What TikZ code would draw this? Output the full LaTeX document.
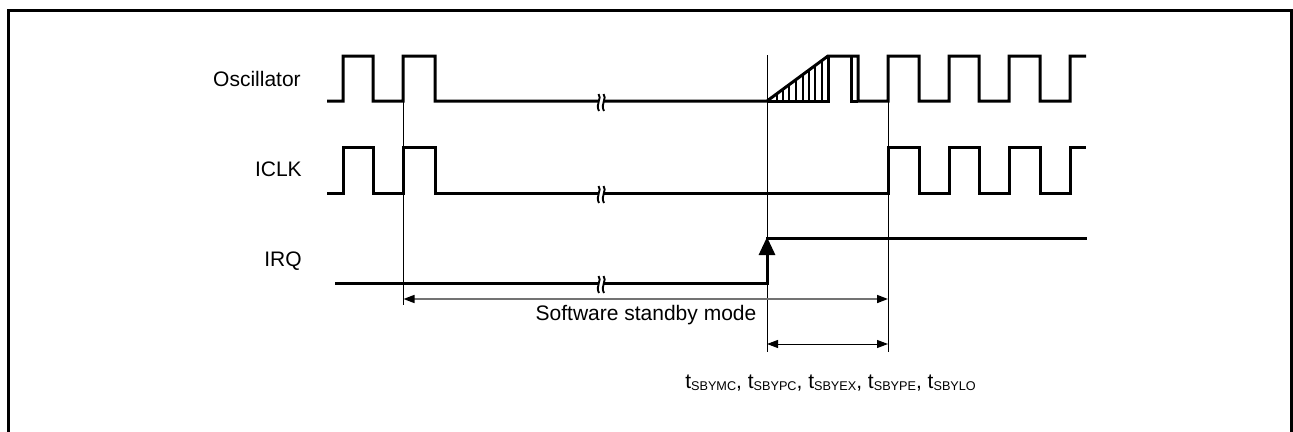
\documentclass[tikz,border=0pt]{standalone}
\usepackage{fontspec}
\setmainfont{Liberation Sans}
\usetikzlibrary{arrows.meta}
\begin{document}
\begin{tikzpicture}[x=0.75pt,y=-0.75pt,
  wave/.style={line width=2.25pt, line join=miter, line cap=butt},
  guide/.style={line width=0.75pt},
  hatch/.style={line width=1.5pt},
  lbl/.style={inner sep=0pt, font=\fontsize{15.75}{18}\selectfont},
  dimtip/.style={{Triangle[length=8.25pt,width=6pt,color=black]}-{Triangle[length=8.25pt,width=6pt,color=black]}},
  brk/.pic={
    \fill[white] (-1.5,-5) rectangle (3.5,8);
    \draw[line width=1.4pt] (-1.5,-7) .. controls (2.5,-3) and (-5,3) .. (-1,10);
    \draw[line width=1.4pt] (3.5,-7) .. controls (7.5,-3) and (0,3) .. (4,10);
  }]
\clip (0,0) rectangle (1293,432);
\fill[white] (0,0) rectangle (1293,432);
\draw[line width=2.25pt] (8.5,10.5) rectangle (1291.5,445);

% labels
\node[lbl, anchor=base east] (osc) at (301,86.5) {Oscillator};
\node[lbl, anchor=base east] (iclk) at (302,176.5) {ICLK};
\node[lbl, anchor=base east] (irq) at (302,266.5) {IRQ};

% guide lines
\coordinate (g1t) at (403,101);
\coordinate (g1b) at (403,305);
\coordinate (g2t) at (767,55);
\coordinate (g2b) at (767,352);
\coordinate (g3t) at (888,101);
\coordinate (g3b) at (888,352);
\draw[guide] (g1t) -- (g1b);
\draw[guide] (g2t) -- (g2b);
\draw[guide] (g3t) -- (g3b);

% Oscillator
\draw[wave] (327,101) -- (343,101) -- (343,56) -- (373,56) -- (373,101) -- (403,101) -- (403,56) -- (435,56) -- (435,101) -- (767,101) -- (828,56) -- (858,56) -- (858,101) -- (888,101) -- (888,56) -- (919,56) -- (919,101) -- (949,101) -- (949,56) -- (979,56) -- (979,101) -- (1009,101) -- (1009,56) -- (1040,56) -- (1040,101) -- (1070,101) -- (1070,56) -- (1086,56);
\draw[wave] (767,101) -- (828,101) -- (828,56);
\draw[wave] (851,56) -- (851,101) -- (858,101);
\foreach \hx in {776.7,783,789.3,796,802.7,809,815.3,821.7}
  \draw[hatch] (\hx,101) -- (\hx,{101-(\hx-767)*45/61});
\pic at (600,101) {brk};

% ICLK
\draw[wave] (327,193) -- (343,193) -- (343,147) -- (373,147) -- (373,193) -- (403,193) -- (403,147) -- (435,147) -- (435,193) -- (888,193) -- (888,147) -- (919,147) -- (919,193) -- (949,193) -- (949,147) -- (979,147) -- (979,193) -- (1009,193) -- (1009,147) -- (1040,147) -- (1040,193) -- (1070,193) -- (1070,147) -- (1086,147);
\pic at (600,193) {brk};

% IRQ
\draw[wave] (335,283) -- (767,283) -- (767,250);
\draw[wave, -{Triangle[length=13.5pt,width=12pt]}] (767,260) -- (767,237);
\draw[wave] (766,238) -- (1087,238);
\pic at (600,283) {brk};

% dimension arrows
\coordinate (s1) at (403.5,299);
\coordinate (s2) at (888,299);
\draw[line width=1.2pt, color=black!55, dimtip] (s1) -- (s2);
\node[lbl, anchor=base] (sbm) at (646,320) {Software standby mode};

\coordinate (t1) at (767,344);
\coordinate (t2) at (888,344);
\draw[line width=0.75pt, dimtip] (t1) -- (t2);
\newcommand{\sbysub}[1]{\raisebox{-2pt}{\fontsize{9.5}{10}\selectfont #1}}
\node[lbl, anchor=base west] (tlab) at (685,388) {t\sbysub{SBYMC}, t\sbysub{SBYPC}, t\sbysub{SBYEX}, t\sbysub{SBYPE}, t\sbysub{SBYLO}};
\end{tikzpicture}
\end{document}
